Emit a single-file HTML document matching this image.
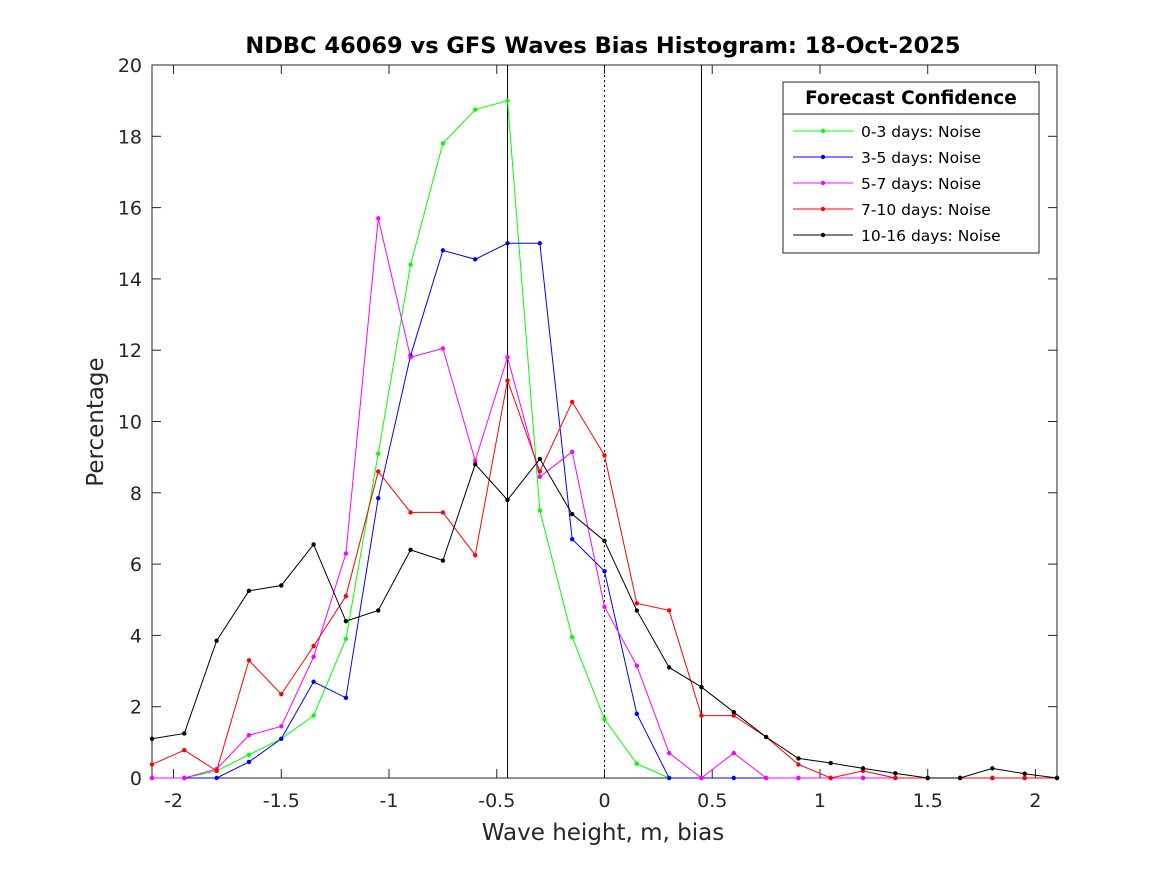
<!DOCTYPE html>
<html><head><meta charset="utf-8"><style>
body{margin:0;background:#fff;font-family:"Liberation Sans","DejaVu Sans",sans-serif;}
svg text{font-family:"DejaVu Sans","Liberation Sans",sans-serif;}
</style></head><body>
<svg id="chart" width="1167" height="875" viewBox="0 0 1167 875">
<rect width="1167" height="875" fill="#fff"/>
<g id="plot"></g>
</svg>
<script>
const xs = [-2.1,-1.95,-1.8,-1.65,-1.5,-1.35,-1.2,-1.05,-0.9,-0.75,-0.6,-0.45,-0.3,-0.15,0,0.15,0.3,0.45,0.6,0.75,0.9,1.05,1.2,1.35,1.5,1.65,1.8,1.95,2.1];
const green = [0,0,0.2,0.65,1.1,1.75,3.9,9.1,14.4,17.8,18.75,19.0,7.5,3.95,1.65,0.4,0,0,0,0,0,0,0,0,0,0,0,0,0];
const blue = [0,0,0,0.45,1.1,2.7,2.25,7.85,11.85,14.8,14.55,15.0,15.0,6.7,5.8,1.8,0,0,0,0,0,0,0,0,0,0,0,0,0];
const magenta = [0,0,0.25,1.2,1.45,3.4,6.3,15.7,11.8,12.05,8.9,11.8,8.45,9.15,4.8,3.15,0.7,0,0.7,0,0,0,0,0,0,0,0,0,0];
const red = [0.38,0.78,0.2,3.3,2.35,3.7,5.1,8.6,7.45,7.45,6.25,11.15,8.6,10.55,9.05,4.9,4.7,1.75,1.75,1.15,0.38,0,0.2,0,0,0,0,0,0];
const black = [1.1,1.25,3.85,5.25,5.4,6.55,4.4,4.7,6.4,6.1,8.8,7.8,8.95,7.4,6.65,4.7,3.1,2.55,1.85,1.15,0.55,0.42,0.27,0.13,0,0,0.27,0.12,0];
const xTicks = [-2,-1.5,-1,-0.5,0,0.5,1,1.5,2];
const xTickLabels = ["-2","-1.5","-1","-0.5","0","0.5","1","1.5","2"];
const yTicks = [0,2,4,6,8,10,12,14,16,18,20];
const seriesNames = ["0-3 days: Noise","3-5 days: Noise","5-7 days: Noise","7-10 days: Noise","10-16 days: Noise"];

const L=152,R=1057,T=65,B=778;
const X=v=>L+(v+2.1)/4.2*(R-L);
const Y=v=>B-v/20*(B-T);
const NS="http://www.w3.org/2000/svg";
const g=document.getElementById('plot');
function el(tag,attrs,parent){const e=document.createElementNS(NS,tag);for(const k in attrs)e.setAttribute(k,attrs[k]);(parent||g).appendChild(e);return e;}

let box=el('rect',{x:L,y:T,width:R-L,height:B-T,fill:'none',stroke:'#262626','stroke-width':1});



xTicks.forEach((v,i)=>{
  const x=X(v);
  el('line',{x1:x,y1:B,x2:x,y2:B-9,stroke:'#262626'});
  el('line',{x1:x,y1:T,x2:x,y2:T+9,stroke:'#262626'});
  const t=el('text',{x:x,y:B+29,'text-anchor':'middle','font-size':19,fill:'#262626'});
  t.textContent=xTickLabels[i];
  
  
});
yTicks.forEach(v=>{
  const y=Y(v);
  el('line',{x1:L,y1:y,x2:L+9,y2:y,stroke:'#262626'});
  el('line',{x1:R,y1:y,x2:R-9,y2:y,stroke:'#262626'});
  const t=el('text',{x:L-10,y:y+7,'text-anchor':'end','font-size':19,fill:'#262626'});
  t.textContent=String(v);
  
  
});

[-0.45,0.45].forEach(v=>{
  const l=el('line',{x1:X(v),y1:T,x2:X(v),y2:B,stroke:'#000','stroke-width':1});
  
  
});
const zl=el('line',{x1:X(0),y1:T,x2:X(0),y2:B,stroke:'#000','stroke-width':1,'stroke-dasharray':'2,3'});



const series=[[green,'#00ff00'],[blue,'#0000ff'],[magenta,'#ff00ff'],[red,'#ff0000'],[black,'#000000']];
series.forEach(([d,c],si)=>{
  const p=el('polyline',{points:d.map((v,i)=>X(xs[i])+','+Y(v)).join(' '),fill:'none',stroke:c,'stroke-width':1});
  
  
  d.forEach((v,i)=>{
    const m=el('circle',{cx:X(xs[i]),cy:Y(v),r:2.2,fill:c});
    
    
  });
});

let t=el('text',{x:603,y:53,'text-anchor':'middle','font-size':22.5,'font-weight':'bold',fill:'#000'});
t.textContent='NDBC 46069 vs GFS Waves Bias Histogram: 18-Oct-2025';


t=el('text',{x:603,y:840,'text-anchor':'middle','font-size':23,fill:'#262626'});
t.textContent='Wave height, m, bias';


t=el('text',{x:103,y:422,'text-anchor':'middle','font-size':23,fill:'#262626',transform:'rotate(-90 103 422)'});
t.textContent='Percentage';



const lg=el('g',{});


el('rect',{x:783,y:82,width:256,height:171,fill:'#fff',stroke:'#262626'},lg);
el('line',{x1:783,y1:114,x2:1039,y2:114,stroke:'#262626'},lg);
t=el('text',{x:911,y:104,'text-anchor':'middle','font-size':18.5,'font-weight':'bold',fill:'#000'},lg);
t.textContent='Forecast Confidence';


series.forEach(([d,c],i)=>{
  const y=131+i*26;
  const e=el('g',{},lg);
  
  
  el('line',{x1:793,y1:y,x2:853,y2:y,stroke:c},e);
  el('circle',{cx:823,cy:y,r:2.2,fill:c},e);
  const tx=el('text',{x:861,y:y+6,'font-size':15.5,fill:'#000'},e);
  tx.textContent=seriesNames[i];
});
</script>
</body></html>
